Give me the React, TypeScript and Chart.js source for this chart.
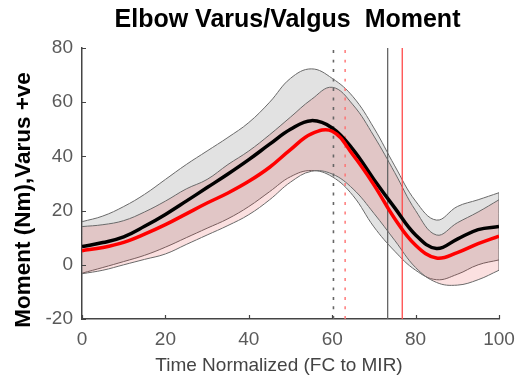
import React, { useEffect, useRef } from "react";
import { Chart, registerables } from "chart.js";

Chart.register(...registerables);

// ---- Data ----
const TIME = [0, 5, 10, 15, 20, 25, 30, 35, 40, 45, 50, 55, 60, 65, 70, 75, 80, 85, 90, 95, 100];

const BLACK_MEAN = [6.7, 8.2, 10.3, 14.2, 18.6, 23.5, 28.5, 33.5, 38.8, 44.5, 50, 53.2, 50.5, 42.5, 31.5, 21, 11, 6, 9.5, 13, 14.1];
const BLACK_UPPER = [15.9, 18, 21.5, 26, 31.5, 37, 42, 47, 52.5, 60, 68.8, 72.3, 68.8, 62, 50.5, 36.5, 23.5, 16.5, 21.5, 24, 26.6];
const BLACK_LOWER = [-3.1, -1, 1.2, 3.5, 6.5, 10, 13.5, 17, 21.5, 27, 32.5, 34.8, 32.5, 25.5, 14, 5, -2, -5.5, -3.5, 0, 1.8];

const RED_MEAN = [5.2, 6.4, 8.3, 11.3, 14.8, 18.8, 22.8, 26.5, 30.8, 36, 42.5, 48.3, 49.3, 40.5, 29.5, 17, 7.2, 2.5, 4.5, 7.8, 10.6];
const RED_UPPER = [14.1, 14.8, 16.3, 19.5, 23.5, 28, 31.5, 37, 42, 48, 54.5, 61, 65.5, 59, 47.5, 34, 20, 11, 15.5, 19.5, 24];
const RED_LOWER = [-3.3, -2, 0, 2, 4, 7.5, 11, 14.5, 18.5, 24, 30.5, 34.5, 33.5, 28, 19, 9, -1, -6.5, -7.5, -5.5, -2];

// event markers (time, % of FC to MIR)
const BLACK_EVENTS = [60.3, 73.3]; // dotted, solid
const RED_EVENTS = [63.1, 76.8]; // dotted, solid

const X_TICKS = [0, 20, 40, 60, 80, 100];
const Y_TICKS = [-20, 0, 20, 40, 60, 80];
const X_RANGE = [0, 100];
const Y_RANGE = [-20, 80];

const TITLE = "Elbow Varus/Valgus  Moment";
const X_LABEL = "Time Normalized (FC to MIR)";
const Y_LABEL = "Moment (Nm),Varus +ve";

const FONT = "'Liberation Sans', Arial, Helvetica, sans-serif";

const pts = (ys: number[]) => TIME.map((t, i) => ({ x: t, y: ys[i] }));
const vline = (x: number) => [
  { x, y: Y_RANGE[0] },
  { x, y: Y_RANGE[1] },
];
const edge = (x: number, a: number, b: number) => [
  { x, y: a },
  { x, y: b },
];

const textPlugin = {
  id: "textAndTicks",
  afterDraw(chart: any) {
    const { ctx, chartArea, scales } = chart;
    const { left, right, bottom } = chartArea;
    ctx.save();
    // inward ticks
    ctx.strokeStyle = "#444";
    ctx.lineWidth = 1.2;
    ctx.beginPath();
    X_TICKS.forEach((v) => {
      const px = Math.round(scales.x.getPixelForValue(v)) + 0.5;
      ctx.moveTo(px, bottom);
      ctx.lineTo(px, bottom - 4);
    });
    Y_TICKS.forEach((v) => {
      const py = Math.round(scales.y.getPixelForValue(v)) + 0.5;
      ctx.moveTo(left, py);
      ctx.lineTo(left + 4, py);
    });
    ctx.stroke();

    // title
    ctx.fillStyle = "#000";
    ctx.textAlign = "center";
    ctx.textBaseline = "middle";
    ctx.font = `bold 25px ${FONT}`;
    ctx.fillText(TITLE, (left + right) / 2 - 3, 20);

    // x label
    ctx.fillStyle = "#444";
    ctx.font = `19px ${FONT}`;
    ctx.fillText(X_LABEL, 279, 366);

    // y label
    ctx.fillStyle = "#000";
    ctx.font = `bold 22.5px ${FONT}`;
    ctx.translate(24, 200);
    ctx.rotate(-Math.PI / 2);
    ctx.fillText(Y_LABEL, 0, 0);
    ctx.restore();
  },
};

export default function App() {
  const ref = useRef<HTMLCanvasElement | null>(null);

  useEffect(() => {
    if (!ref.current) return;
    const base = { pointRadius: 0, pointHoverRadius: 0, tension: 0.4 };
    const chart = new Chart(ref.current, {
      type: "line",
      data: {
        datasets: [
          // 0 black band upper (fills to 1)
          { ...base, data: pts(BLACK_UPPER), borderColor: "#6a6a6a", borderWidth: 1, backgroundColor: "#e2e2e2", fill: { target: 1 }, order: 10 },
          // 1 black band lower
          { ...base, data: pts(BLACK_LOWER), borderColor: "#6a6a6a", borderWidth: 1, fill: false, order: 9 },
          // 2 red band upper (fills to 3)
          { ...base, data: pts(RED_UPPER), borderColor: "#6a6a6a", borderWidth: 1, backgroundColor: "rgba(225,0,0,0.12)", fill: { target: 3 }, order: 8 },
          // 3 red band lower
          { ...base, data: pts(RED_LOWER), borderColor: "#6a6a6a", borderWidth: 1, fill: false, order: 7 },
          // band end edges
          { ...base, data: edge(X_RANGE[1], BLACK_UPPER[BLACK_UPPER.length - 1], RED_LOWER[RED_LOWER.length - 1]), borderColor: "#6a6a6a", borderWidth: 1, fill: false, order: 6 },
          { ...base, data: edge(X_RANGE[0], BLACK_UPPER[0], RED_LOWER[0]), borderColor: "#6a6a6a", borderWidth: 1, fill: false, order: 6 },
          // event lines
          { ...base, data: vline(BLACK_EVENTS[0]), borderColor: "#666", borderWidth: 1.6, borderDash: [3, 6.5], fill: false, order: 5 },
          { ...base, data: vline(RED_EVENTS[0]), borderColor: "#ff7070", borderWidth: 1.4, borderDash: [3, 6.5], fill: false, order: 5 },
          { ...base, data: vline(BLACK_EVENTS[1]), borderColor: "#666", borderWidth: 1.3, fill: false, order: 5 },
          { ...base, data: vline(RED_EVENTS[1]), borderColor: "#ff4a4a", borderWidth: 1.3, fill: false, order: 5 },
          // means
          { ...base, data: pts(BLACK_MEAN), borderColor: "#000", borderWidth: 3.5, fill: false, order: 2 },
          { ...base, data: pts(RED_MEAN), borderColor: "#ff0000", borderWidth: 3.5, fill: false, order: 1 },
        ],
      },
      options: {
        responsive: false,
        animation: false,
        events: [],
        layout: { padding: { left: 0, right: 16, top: 48, bottom: 0 } },
        plugins: { legend: { display: false }, tooltip: { enabled: false }, title: { display: false } },
        scales: {
          x: {
            type: "linear",
            min: X_RANGE[0],
            max: X_RANGE[1],
            afterBuildTicks: (s: any) => {
              s.ticks = X_TICKS.map((v) => ({ value: v }));
            },
            afterFit: (s: any) => {
              s.height = 60;
              s.paddingLeft = 0;
              s.paddingRight = 0;
            },
            grid: { display: true, drawOnChartArea: false, drawTicks: false },
            border: { display: true, color: "#444", width: 1.5 },
            ticks: { padding: 9, color: "#5a5a5a", font: { family: FONT, size: 19 } },
          },
          y: {
            type: "linear",
            min: Y_RANGE[0],
            max: Y_RANGE[1],
            afterBuildTicks: (s: any) => {
              s.ticks = Y_TICKS.map((v) => ({ value: v }));
            },
            afterFit: (s: any) => {
              s.width = 82;
              s.paddingTop = 0;
              s.paddingBottom = 0;
            },
            grid: { display: true, drawOnChartArea: false, drawTicks: false },
            border: { display: true, color: "#444", width: 1.5 },
            ticks: { padding: 9, color: "#5a5a5a", font: { family: FONT, size: 19 } },
          },
        },
      },
      plugins: [textPlugin],
    } as any);
    return () => chart.destroy();
  }, []);

  return (
    <div style={{ position: "absolute", left: 0, top: 0, width: 515, height: 379, background: "#fff" }}>
      <canvas ref={ref} width={515} height={379} style={{ display: "block", width: 515, height: 379 }} />
    </div>
  );
}
